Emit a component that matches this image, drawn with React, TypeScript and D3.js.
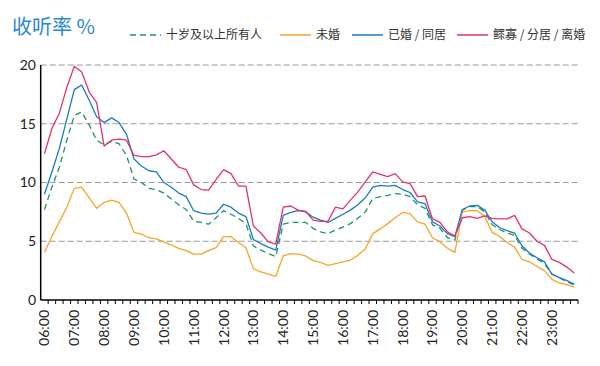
import { useEffect, useRef } from 'react';
import * as d3 from 'd3';

// 15-minute slots from 06:00 to 23:45
const TIMES: string[] = d3.range(72).map((i) => {
  const m = 360 + i * 15;
  return `${String(Math.floor(m / 60)).padStart(2, '0')}:${String(m % 60).padStart(2, '0')}`;
});

const Y_TICKS = [0, 5, 10, 15, 20];

const ALL = [
  7.7, 9.6, 11.3, 13.6, 15.7, 16.0, 14.9, 13.6, 13.2, 13.5, 13.3, 12.3, 10.3, 10.0, 9.5, 9.4, 9.1, 8.6,
  8.1, 7.7, 6.7, 6.6, 6.45, 7.0, 7.6, 7.3, 6.95, 6.5, 4.6, 4.25, 3.95, 3.7, 6.45, 6.6, 6.6, 6.6,
  6.1, 5.8, 5.65, 5.95, 6.2, 6.5, 6.95, 7.5, 8.65, 8.8, 8.9, 9.05, 9.0, 8.8, 8.1, 7.8, 6.4, 6.1,
  5.3, 5.1, 7.65, 7.95, 7.95, 7.5, 6.4, 6.0, 5.7, 5.5, 4.4, 3.9, 3.5, 3.1, 2.2, 1.9, 1.55, 1.3,
];

const SINGLE = [
  4.05, 5.4, 6.65, 7.9, 9.5, 9.6, 8.7, 7.8, 8.3, 8.5, 8.3, 7.4, 5.75, 5.6, 5.3, 5.2, 4.95, 4.7,
  4.4, 4.2, 3.9, 3.9, 4.2, 4.45, 5.4, 5.4, 4.9, 4.45, 2.65, 2.4, 2.2, 2.0, 3.75, 3.95, 3.9, 3.75,
  3.35, 3.2, 2.95, 3.1, 3.25, 3.4, 3.8, 4.35, 5.65, 6.05, 6.5, 7.0, 7.45, 7.35, 6.65, 6.45, 5.3, 4.95,
  4.4, 4.05, 7.5, 7.6, 7.6, 7.1, 5.75, 5.4, 4.9, 4.5, 3.45, 3.25, 2.85, 2.5, 1.75, 1.45, 1.3, 1.1,
];

const MARRIED = [
  9.0, 10.9, 12.9, 15.4, 17.9, 18.3, 17.0, 15.6, 15.1, 15.5, 15.1, 14.1, 12.0, 11.4, 11.0, 10.9, 10.0, 9.6,
  9.1, 8.8, 7.6, 7.4, 7.3, 7.4, 8.15, 7.9, 7.4, 7.1, 5.15, 4.8, 4.5, 4.25, 7.2, 7.45, 7.6, 7.5,
  7.05, 6.8, 6.6, 6.95, 7.3, 7.65, 8.1, 8.7, 9.6, 9.75, 9.7, 9.75, 9.4, 9.15, 8.35, 8.2, 6.65, 6.3,
  5.65, 5.4, 7.7, 8.0, 8.05, 7.65, 6.65, 6.15, 5.9, 5.7, 4.6, 4.0, 3.6, 3.25, 2.2, 1.9, 1.65, 1.35,
];

const WIDOWED = [
  12.45, 14.6, 15.9, 18.1, 19.9, 19.4, 17.7, 16.8, 13.1, 13.6, 13.7, 13.6, 12.3, 12.2, 12.2, 12.35, 12.7, 12.0,
  11.3, 11.1, 9.8, 9.4, 9.35, 10.25, 11.1, 10.75, 9.7, 9.7, 6.3, 5.7, 4.95, 4.75, 7.9, 8.0, 7.65, 7.55,
  6.8, 6.7, 6.7, 7.9, 7.75, 8.5, 9.2, 10.05, 10.9, 10.7, 10.5, 10.75, 10.05, 9.9, 8.8, 8.85, 6.9, 6.6,
  5.8, 5.45, 7.0, 7.1, 6.95, 7.15, 6.95, 6.9, 6.9, 7.2, 6.05, 5.7, 5.0, 4.65, 3.45, 3.2, 2.8, 2.3,
];

const SERIES = [
  { name: '十岁及以上所有人', values: ALL, color: '#1e9466', dash: '6,4' },
  { name: '未婚', values: SINGLE, color: '#f7a427', dash: null },
  { name: '已婚 / 同居', values: MARRIED, color: '#1d79c4', dash: null },
  { name: '鳏寡 / 分居 / 离婚', values: WIDOWED, color: '#e2336f', dash: null },
];

const LEGEND_X = [130, 280, 352, 457];

const W = 600;
const H = 366;
const PLOT = { left: 40.7, right: 578, top: 65, bottom: 300 };
const FONT = "'Noto Sans CJK SC', 'Noto Sans', sans-serif";
const NUM_FONT = "Lato, 'Noto Sans', sans-serif";

export default function App() {
  const svgRef = useRef<SVGSVGElement>(null);

  useEffect(() => {
    const svg = d3.select(svgRef.current!);
    svg.selectAll('*').remove();

    const x = d3.scaleBand<string>().domain(TIMES).range([PLOT.left, PLOT.right]).padding(0);
    const y = d3.scaleLinear().domain([0, 20]).range([PLOT.bottom, PLOT.top]);
    const cx = (t: string) => x(t)! + x.bandwidth() / 2;

    // gridlines
    svg.append('g')
      .selectAll('line')
      .data(Y_TICKS.filter((d) => d > 0))
      .join('line')
      .attr('x1', PLOT.left)
      .attr('x2', PLOT.right)
      .attr('y1', (d) => y(d))
      .attr('y2', (d) => y(d))
      .attr('stroke', '#9a9a9a')
      .attr('stroke-width', 1)
      .attr('stroke-dasharray', '6,3');

    // y labels
    svg.append('g')
      .selectAll('text')
      .data(Y_TICKS)
      .join('text')
      .attr('x', 36)
      .attr('y', (d) => y(d))
      .attr('dy', '0.35em')
      .attr('text-anchor', 'end')
      .attr('font-family', NUM_FONT)
      .attr('font-size', 14)
      .attr('fill', '#222')
      .text((d) => d);

    // lines
    const line = d3
      .line<number>()
      .x((_, i) => cx(TIMES[i]))
      .y((d) => y(d));

    SERIES.forEach((s) => {
      svg.append('path')
        .datum(s.values)
        .attr('d', line)
        .attr('fill', 'none')
        .attr('stroke', s.color)
        .attr('stroke-width', 1.3)
        .attr('stroke-linejoin', 'round')
        .attr('stroke-dasharray', s.dash ?? null);
    });

    // axes
    svg.append('line')
      .attr('x1', PLOT.left).attr('x2', PLOT.left)
      .attr('y1', PLOT.top).attr('y2', PLOT.bottom)
      .attr('stroke', '#000').attr('stroke-width', 1.5);
    svg.append('line')
      .attr('x1', PLOT.left).attr('x2', PLOT.right)
      .attr('y1', PLOT.bottom).attr('y2', PLOT.bottom)
      .attr('stroke', '#000').attr('stroke-width', 1.5);

    const bounds = TIMES.map((t) => x(t)!).slice(1).concat([PLOT.right]);
    svg.append('g')
      .selectAll('line')
      .data(bounds)
      .join('line')
      .attr('x1', (d) => d).attr('x2', (d) => d)
      .attr('y1', PLOT.bottom).attr('y2', PLOT.bottom + 4)
      .attr('stroke', '#000').attr('stroke-width', 1);

    svg.append('g')
      .selectAll('text')
      .data(TIMES.filter((t) => t.endsWith(':00')))
      .join('text')
      .attr('transform', (t) => `translate(${cx(t) + 5},${PLOT.bottom + 10}) rotate(-90)`)
      .attr('text-anchor', 'end')
      .attr('font-family', NUM_FONT)
      .attr('font-size', 14)
      .attr('fill', '#222')
      .text((t) => t);

    // title
    svg.append('text')
      .attr('x', 12).attr('y', 34)
      .attr('font-family', FONT)
      .attr('font-size', 20)
      .attr('fill', '#2a88d0')
      .text('收听率 %');

    // legend
    const lg = svg.append('g');
    SERIES.forEach((s, i) => {
      const g = lg.append('g').attr('transform', `translate(${LEGEND_X[i]},35)`);
      g.append('line')
        .attr('x1', 0).attr('x2', 31)
        .attr('stroke', s.color).attr('stroke-width', 1.5)
        .attr('stroke-dasharray', s.dash ?? null);
      g.append('text')
        .attr('x', 36).attr('dy', '0.35em')
        .attr('font-family', FONT)
        .attr('font-size', 12)
        .attr('fill', '#333')
        .text(s.name);
    });
  }, []);

  return (
    <div style={{ width: W, height: H, margin: -8, background: '#fff' }}>
      <svg ref={svgRef} width={W} height={H} style={{ display: 'block' }} />
    </div>
  );
}
